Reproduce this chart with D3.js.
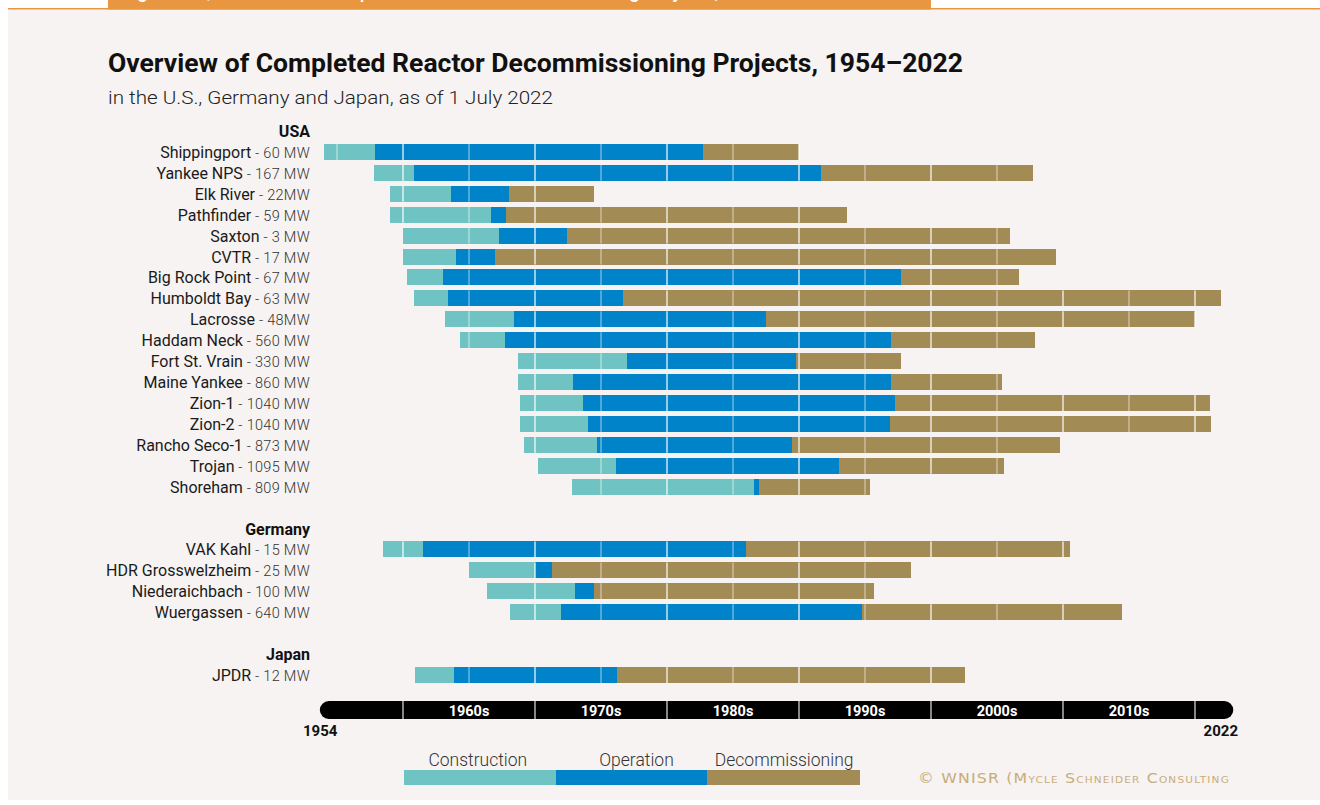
<!DOCTYPE html>
<html>
<head>
<meta charset="utf-8">
<script src="https://cdn.jsdelivr.net/npm/d3@7"></script>
<style>
  html, body { margin: 0; padding: 0; background: #ffffff; }
  svg { display: block; }
</style>
</head>
<body>
<svg id="chart" width="1320" height="805"></svg>
<script>
// Reactor life-cycle phases (years, fractional)
const countries = ["USA", "Germany", "Japan"];
const reactorCountry = ["USA","USA","USA","USA","USA","USA","USA","USA","USA","USA","USA","USA","USA","USA","USA","USA","USA",
  "Germany","Germany","Germany","Germany","Japan"];
const reactorNames = ["Shippingport","Yankee NPS","Elk River","Pathfinder","Saxton","CVTR","Big Rock Point","Humboldt Bay",
  "Lacrosse","Haddam Neck","Fort St. Vrain","Maine Yankee","Zion-1","Zion-2","Rancho Seco-1","Trojan","Shoreham",
  "VAK Kahl","HDR Grosswelzheim","Niederaichbach","Wuergassen","JPDR"];
const capacities = ["60 MW","167 MW","22MW","59 MW","3 MW","17 MW","67 MW","63 MW","48MW","560 MW","330 MW","860 MW",
  "1040 MW","1040 MW","873 MW","1095 MW","809 MW","15 MW","25 MW","100 MW","640 MW","12 MW"];
const constructionStart = [1954.0,1957.8,1959.0,1959.0,1960.0,1960.0,1960.3,1960.8,1963.2,1964.3,1968.7,1968.7,1968.9,1968.9,1969.2,1970.2,1972.8,
  1958.5,1965.0,1966.4,1968.1,1960.9];
const operationStart = [1957.9,1960.8,1963.6,1966.7,1967.3,1964.0,1963.0,1963.4,1968.4,1967.7,1977.0,1972.9,1973.6,1974.0,1974.7,1976.1,1986.6,
  1961.5,1970.0,1973.0,1972.0,1963.9];
const decommissioningStart = [1982.7,1991.7,1968.0,1967.8,1972.4,1967.0,1997.7,1976.7,1987.5,1997.0,1989.8,1997.0,1997.3,1996.9,1989.5,1993.0,1987.0,
  1986.0,1971.3,1974.5,1994.8,1976.2];
const decommissioningEnd = [1990.0,2007.7,1974.5,1993.6,2006.0,2009.5,2006.7,2022.0,2020.0,2007.9,1997.7,2005.4,2021.1,2021.2,2009.8,2005.5,1995.4,
  2010.5,1998.5,1995.7,2014.5,2002.6];
const phaseNames = ["Construction","Operation","Decommissioning"];
const phaseColors = ["#6fc3c2","#0083c8","#a38b55"];
const decadeLabels = ["1960s","1970s","1980s","1990s","2000s","2010s"];
const decadeStarts = [1960,1970,1980,1990,2000,2010];

const svg = d3.select("#chart");
const W = 1320, H = 805;

// page frame
svg.append("rect").attr("x", 8).attr("y", 9).attr("width", W - 8).attr("height", 791).attr("fill", "#f6f3f2");
svg.append("rect").attr("x", 8).attr("y", 8).attr("width", W - 8).attr("height", 1.5).attr("fill", "#e8963f");
svg.append("defs").append("clipPath").attr("id", "hdrclip")
  .append("rect").attr("x", 108).attr("y", 0).attr("width", 823).attr("height", 9);
svg.append("rect").attr("x", 108).attr("y", 0).attr("width", 823).attr("height", 9.5).attr("fill", "#e8963f");
svg.append("text").attr("clip-path", "url(#hdrclip)")
  .attr("x", 122).attr("y", -2).attr("fill", "#ffffff")
  .attr("font-family", "Roboto").attr("font-size", 19).attr("font-weight", 500)
  .attr("textLength", 700).attr("lengthAdjust", "spacingAndGlyphs")
  .text("Figure 45 | Overview of Completed Reactor Decommissioning Projects, 1954–2022");

// titles
svg.append("text").attr("x", 108).attr("y", 72)
  .attr("font-family", "Roboto").attr("font-weight", 700).attr("font-size", 25).attr("fill", "#111")
  .attr("textLength", 855).attr("lengthAdjust", "spacingAndGlyphs")
  .text("Overview of Completed Reactor Decommissioning Projects, 1954–2022");
svg.append("text").attr("x", 108).attr("y", 104)
  .attr("font-family", "Roboto").attr("font-weight", 300).attr("font-size", 19).attr("fill", "#222")
  .attr("textLength", 445).attr("lengthAdjust", "spacingAndGlyphs")
  .text("in the U.S., Germany and Japan, as of 1 July 2022");

// row layout: country header rows, reactor rows, blank spacer between groups
const rows = [];
countries.forEach((c, ci) => {
  if (ci > 0) rows.push({ type: "blank" });
  rows.push({ type: "header", label: c });
  reactorNames.forEach((n, i) => {
    if (reactorCountry[i] === c) rows.push({ type: "reactor", index: i });
  });
});

const x = d3.scaleLinear().domain([1954, 2022]).range([323.8, 1221.4]);
const y = d3.scalePoint().domain(d3.range(rows.length)).range([131, 675]);
const barH = 16;

const reactorRows = rows.map((r, k) => ({ ...r, k })).filter(r => r.type === "reactor");

// phase segments
const segments = [];
reactorRows.forEach(r => {
  const i = r.index;
  const b = [constructionStart[i], operationStart[i], decommissioningStart[i], decommissioningEnd[i]];
  for (let p = 0; p < 3; p++) segments.push({ k: r.k, p, x0: b[p], x1: b[p + 1] });
});

const bars = svg.append("g");
bars.selectAll("rect").data(segments).join("rect")
  .attr("x", d => x(d.x0))
  .attr("y", d => y(d.k) - barH / 2)
  .attr("width", d => Math.max(0, x(d.x1) - x(d.x0)))
  .attr("height", barH)
  .attr("fill", d => phaseColors[d.p])
  .attr("shape-rendering", "crispEdges");

// five-year guide lines drawn inside each bar
const gridYears = d3.range(1955, 2021, 5);
const gridMarks = [];
reactorRows.forEach(r => {
  const i = r.index;
  gridYears.forEach(yr => {
    if (yr > constructionStart[i] && yr <= decommissioningEnd[i]) gridMarks.push({ k: r.k, yr });
  });
});
bars.selectAll("line").data(gridMarks).join("line")
  .attr("x1", d => x(d.yr)).attr("x2", d => x(d.yr))
  .attr("y1", d => y(d.k) - barH / 2).attr("y2", d => y(d.k) + barH / 2)
  .attr("stroke", "#ffffff")
  .attr("stroke-width", 1.4)
  .attr("stroke-opacity", d => d.yr % 10 === 0 ? 0.85 : 0.45);

// row labels
const labels = svg.append("g").attr("text-anchor", "end");
rows.forEach((r, k) => {
  if (r.type === "header") {
    labels.append("text").attr("x", 310).attr("y", y(k) + 6)
      .attr("font-family", "Roboto").attr("font-weight", 700).attr("font-size", 16).attr("fill", "#111")
      .text(r.label);
  } else if (r.type === "reactor") {
    const t = labels.append("text").attr("x", 310).attr("y", y(k) + 6).attr("font-family", "Roboto");
    t.append("tspan").attr("font-size", 16).attr("fill", "#1a1a1a").text(reactorNames[r.index]);
    t.append("tspan").attr("font-size", 14.5).attr("font-weight", 300).attr("fill", "#333")
      .attr("letter-spacing", 0.3)
      .text(" - " + capacities[r.index]);
  }
});

// timeline axis
const axY = 701, axH = 18, rad = 9;
const ax0 = x(1953.7), ax1 = x(2022.9);
const axis = svg.append("g");
axis.append("rect").attr("x", ax0).attr("y", axY).attr("width", ax1 - ax0).attr("height", axH)
  .attr("rx", rad).attr("ry", rad).attr("fill", "#000");
axis.append("rect").attr("x", ax0 + rad).attr("y", axY).attr("width", ax1 - ax0 - 2 * rad).attr("height", axH)
  .attr("fill", "#000");
axis.selectAll("line.div").data(d3.range(1960, 2021, 10)).join("line").attr("class", "div")
  .attr("x1", d => x(d)).attr("x2", d => x(d)).attr("y1", axY).attr("y2", axY + axH)
  .attr("stroke", "#b5b5b5").attr("stroke-width", 1.5);
axis.selectAll("text.dec").data(decadeStarts).join("text").attr("class", "dec")
  .attr("x", d => (x(d) + x(d + 10)) / 2).attr("y", axY + 15)
  .attr("text-anchor", "middle").attr("fill", "#fff")
  .attr("font-family", "Roboto").attr("font-weight", 700).attr("font-size", 14.5)
  .text((d, i) => decadeLabels[i]);
axis.append("text").attr("x", 303).attr("y", 736)
  .attr("font-family", "Roboto").attr("font-weight", 700).attr("font-size", 15).attr("fill", "#111")
  .text("1954");
axis.append("text").attr("x", 1238).attr("y", 736).attr("text-anchor", "end")
  .attr("font-family", "Roboto").attr("font-weight", 700).attr("font-size", 15).attr("fill", "#111")
  .text("2022");

// legend
const lx = d3.scaleBand().domain(phaseNames).range([404, 859]);
const labelShift = [-2, 5, 1];
const legend = svg.append("g");
legend.selectAll("rect").data(phaseNames).join("rect")
  .attr("x", d => lx(d)).attr("y", 770).attr("width", lx.bandwidth() + 0.5).attr("height", 15)
  .attr("fill", (d, i) => phaseColors[i]).attr("shape-rendering", "crispEdges");
legend.selectAll("text").data(phaseNames).join("text")
  .attr("x", (d, i) => lx(d) + lx.bandwidth() / 2 + labelShift[i])
  .attr("y", 766).attr("text-anchor", "middle")
  .attr("font-family", "Roboto").attr("font-weight", 300).attr("font-size", 17.5).attr("fill", "#333")
  .text(d => d);

// credit line
svg.append("text").attr("x", 918).attr("y", 783)
  .attr("font-family", "DejaVu Sans").attr("font-size", 13.5).attr("fill", "#c8ad7c")
  .style("font-variant", "small-caps").attr("letter-spacing", 1)
  .attr("textLength", 312).attr("lengthAdjust", "spacingAndGlyphs")
  .text("© WNISR (Mycle Schneider Consulting");
</script>
</body>
</html>
